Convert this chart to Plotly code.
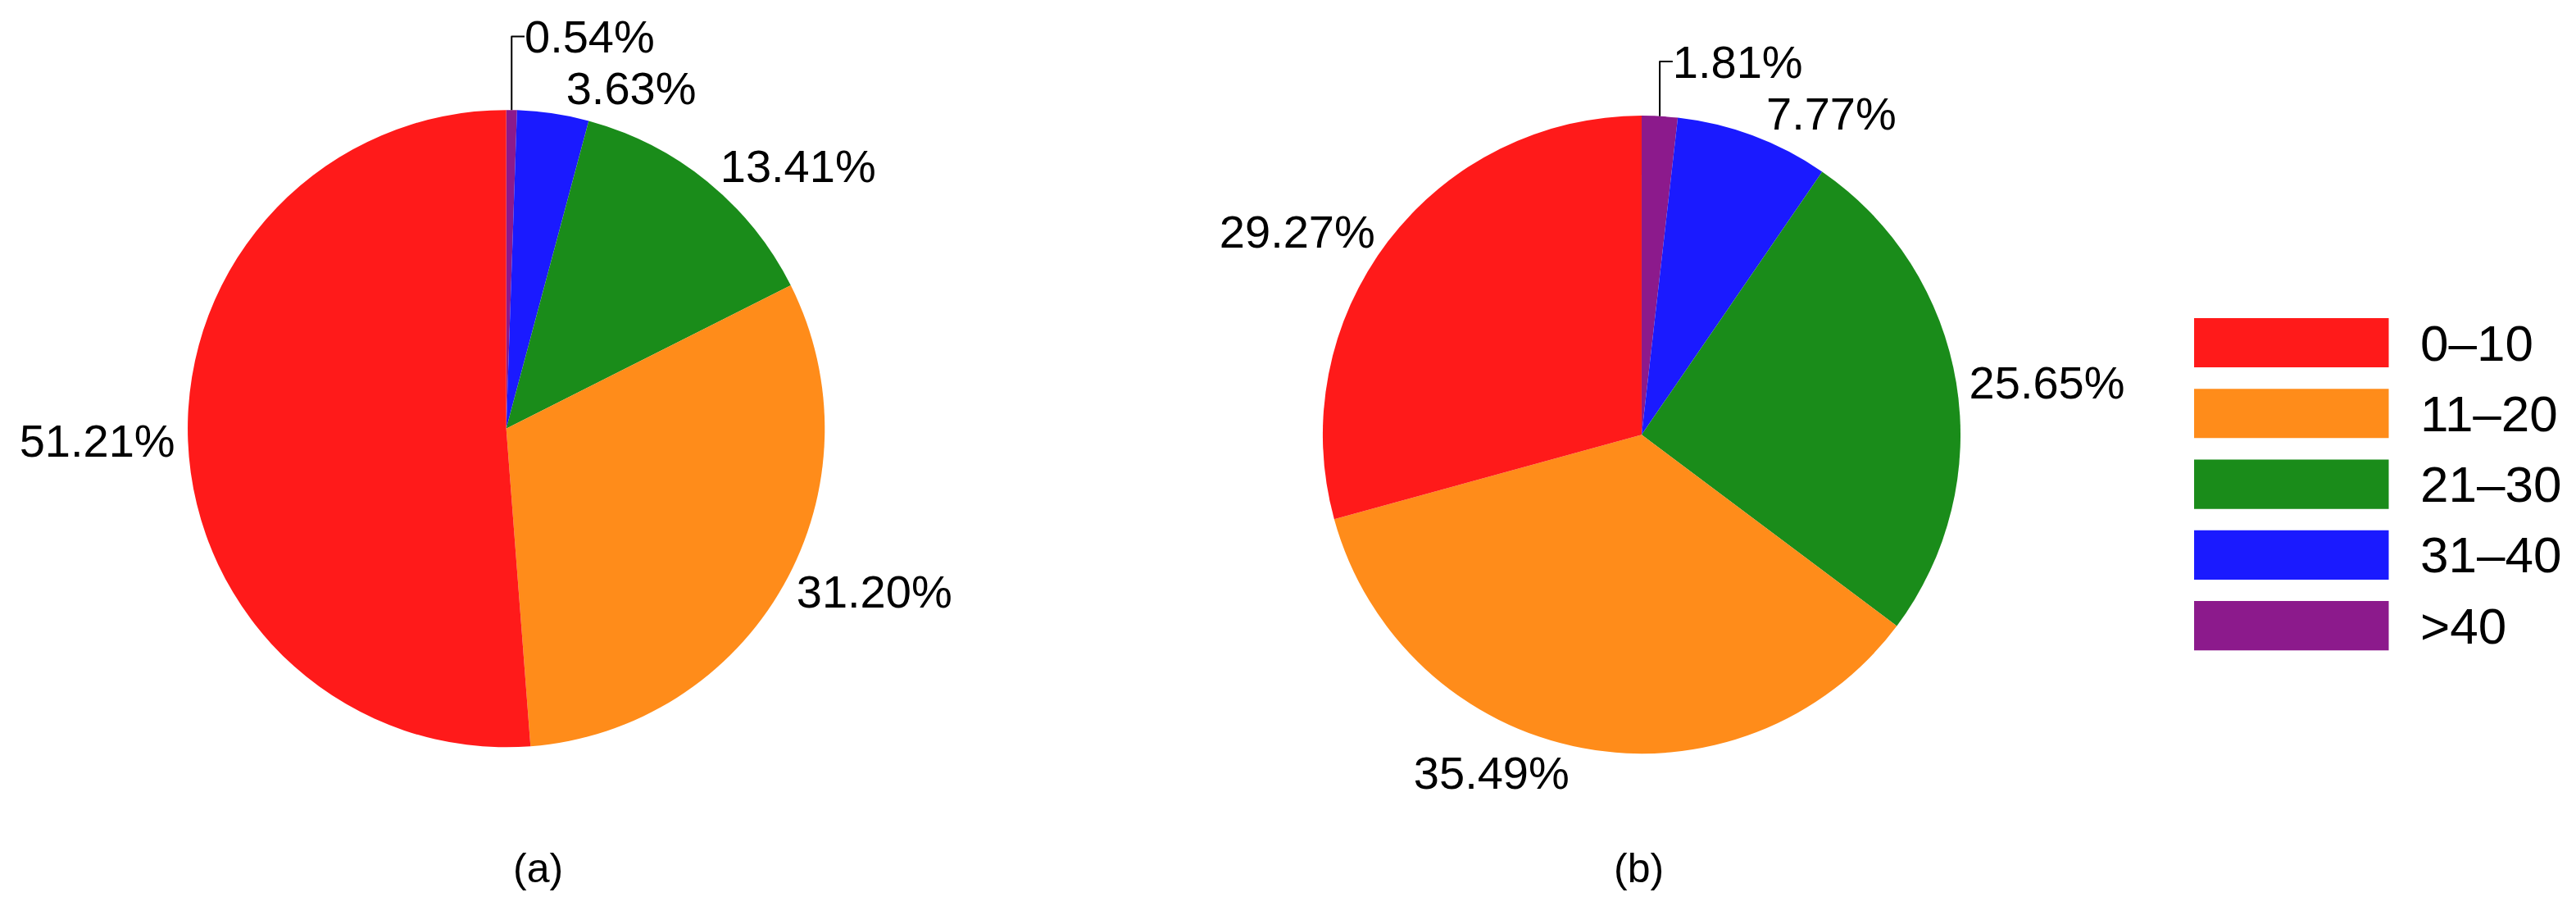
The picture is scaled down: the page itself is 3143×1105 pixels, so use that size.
import plotly.graph_objects as go

labels = ["0–10", "11–20", "21–30", "31–40", ">40"]
colors = ["#FF1A1A", "#FF8C1A", "#1A8C1A", "#1A1AFF", "#8C1A8C"]
values_a = [51.21, 31.20, 13.41, 3.63, 0.54]
values_b = [29.27, 35.49, 25.65, 7.77, 1.81]
captions = ["(a)", "(b)"]

W, H = 3143, 1105
FONT = "Liberation Sans, Arial, sans-serif"

# plot order clockwise from top: >40, 31-40, 21-30, 11-20, 0-10
rev = lambda l: list(reversed(l))

fig = go.Figure()
dxa, dxb, dy = -22 / W, -16 / W, 16 / H
domains = [dict(x=[0.0617 + dxa, 0.3163 + dxa], y=[0.1738 + dy, 0.8995 + dy]),
           dict(x=[0.5068 + dxb, 0.762 + dxb], y=[0.1665 + dy, 0.893 + dy])]
for vals, dom in zip([values_a, values_b], domains):
    fig.add_trace(go.Pie(
        labels=rev(labels), values=rev(vals), sort=False, direction="clockwise",
        rotation=0, domain=dom, marker=dict(colors=rev(colors), line=dict(width=0)),
        textposition="outside", texttemplate="%{value:.2f}%",
        textfont=dict(size=56, color="black", family=FONT),
        showlegend=False, hoverinfo="label+value"))

shapes, annos = [], []
top = 1 - 357 / H
sh = 62 / H
step = 89 / H
for i, (lab, c) in enumerate(zip(labels, colors)):
    y1 = top - i * step
    y0 = y1 - sh
    shapes.append(dict(type="rect", xref="paper", yref="paper",
                       x0=2662 / W, x1=2903 / W, y0=y0, y1=y1,
                       fillcolor=c, line=dict(width=0)))
    annos.append(dict(xref="paper", yref="paper", x=2940 / W, y=(y0 + y1) / 2,
                      text=lab, showarrow=False, xanchor="left", yanchor="middle",
                      font=dict(size=62, color="black", family=FONT)))
for cap, cx in zip(captions, [611, 1974]):
    annos.append(dict(xref="paper", yref="paper", x=cx / W, y=1 - 1049 / H,
                      text=cap, showarrow=False, xanchor="center", yanchor="middle",
                      font=dict(size=50, color="black", family=FONT)))

fig.update_layout(width=W, height=H, margin=dict(l=0, r=0, t=0, b=0),
                  paper_bgcolor="white", plot_bgcolor="white",
                  shapes=shapes, annotations=annos)
fig.write_html("out.html")
